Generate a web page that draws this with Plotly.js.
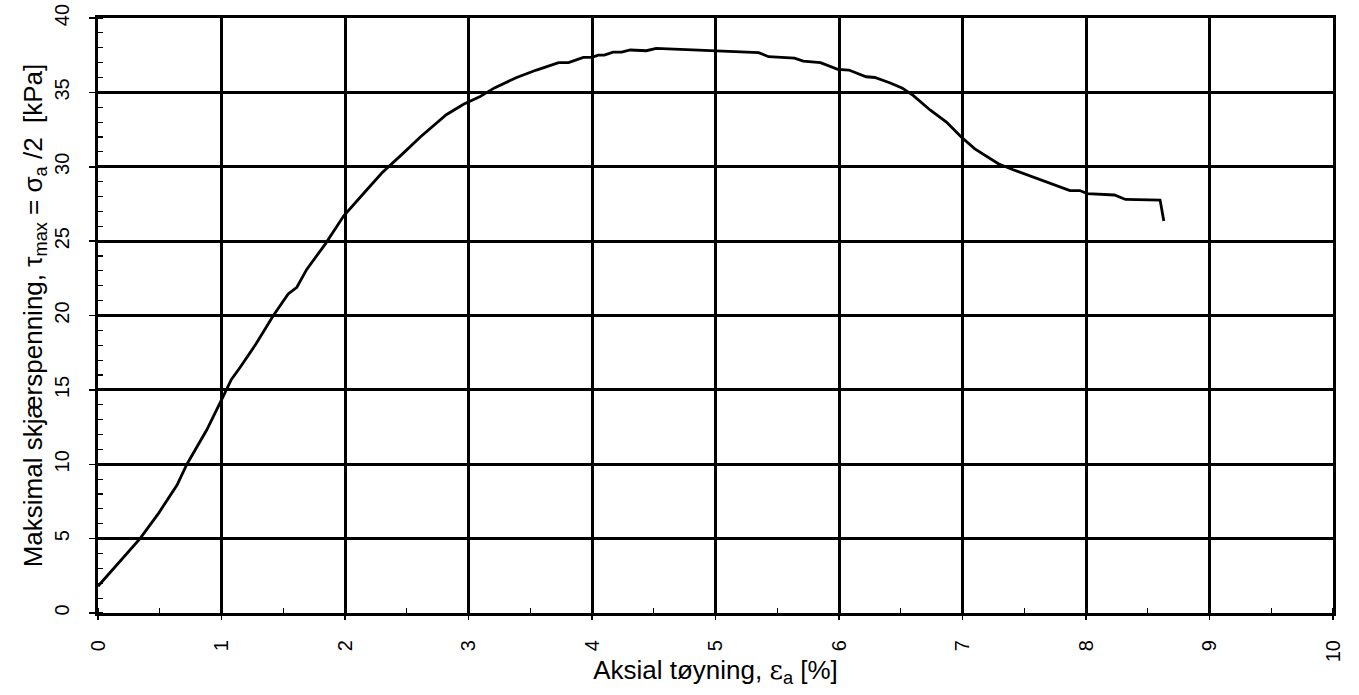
<!DOCTYPE html>
<html>
<head>
<meta charset="utf-8">
<script src="https://cdn.plot.ly/plotly-3.0.1.min.js"></script>
<style>html,body{margin:0;padding:0;background:#fff;}#chart{width:1359px;height:695px;}</style>
</head>
<body>
<div id="chart"></div>
<script>
const strain = [0, 0.17, 0.34, 0.49, 0.64, 0.72, 0.88, 1.01, 1.08, 1.15, 1.28, 1.42, 1.54, 1.61, 1.69, 1.84, 1.99, 2.15, 2.3, 2.47, 2.61, 2.82, 2.96, 3.09, 3.21, 3.39, 3.55, 3.73, 3.81, 3.93, 4.0, 4.05, 4.1, 4.17, 4.24, 4.31, 4.44, 4.52, 5.0, 5.35, 5.43, 5.64, 5.71, 5.85, 5.99, 6.08, 6.22, 6.29, 6.41, 6.51, 6.6, 6.74, 6.87, 6.99, 7.1, 7.29, 7.41, 7.57, 7.74, 7.87, 7.95, 8.01, 8.23, 8.32, 8.6, 8.63];
const shear = [1.8, 3.4, 5.0, 6.7, 8.6, 10.0, 12.3, 14.5, 15.7, 16.5, 18.1, 20.0, 21.45, 21.9, 23.1, 24.8, 26.7, 28.2, 29.6, 30.9, 32.0, 33.5, 34.2, 34.7, 35.3, 36.0, 36.5, 37.0, 37.0, 37.35, 37.35, 37.5, 37.5, 37.7, 37.7, 37.85, 37.8, 37.96, 37.78, 37.67, 37.4, 37.3, 37.1, 37.0, 36.55, 36.5, 36.05, 36.0, 35.65, 35.3, 34.8, 33.8, 33.0, 32.0, 31.2, 30.2, 29.8, 29.3, 28.8, 28.4, 28.4, 28.2, 28.1, 27.8, 27.76, 26.35];
const xTicks = [0,1,2,3,4,5,6,7,8,9,10];
const yTicks = [0,5,10,15,20,25,30,35,40];

const trace = {
  x: strain, y: shear, type: 'scatter', mode: 'lines',
  line: {color: '#000', width: 2.8}, hoverinfo: 'skip'
};
// empty helper trace so the overlay axis (visible major ticks) is drawn
const tickTrace = {x: [], y: [], type: 'scatter', mode: 'lines', xaxis: 'x2', yaxis: 'y', hoverinfo: 'skip'};

const axisCommon = {
  showline: true, linecolor: '#000', linewidth: 3, mirror: true,
  showgrid: true, gridcolor: '#000', gridwidth: 3,
  zeroline: false, ticks: 'outside', ticklen: 6, tickwidth: 1.5, tickcolor: '#000',
  tickfont: {family: 'Liberation Sans, Arial, sans-serif', size: 20, color: '#000'},
  tickangle: -90
};
const layout = {
  width: 1359, height: 695,
  margin: {l: 98, r: 26, t: 18, b: 82},
  paper_bgcolor: '#fff', plot_bgcolor: '#fff',
  showlegend: false,
  font: {family: 'Liberation Sans, Arial, sans-serif', color: '#000'},
  xaxis: Object.assign({}, axisCommon, {
    range: [0, 10], tickvals: xTicks, ticktext: xTicks.map(String),
    ticklen: 16, tickcolor: 'rgba(0,0,0,0)',
    minor: {dtick: 0.5, tick0: 0, ticks: 'inside', ticklen: 5, tickwidth: 1.2, tickcolor: '#000', showgrid: false},
    title: {text: 'Aksial tøyning, <span style="font-family:DejaVu Serif">ε</span><sub>a</sub> [%]', font: {size: 26, color: '#000'}, standoff: 0}
  }),
  xaxis2: {
    overlaying: 'x', anchor: 'y', side: 'bottom', range: [0, 10],
    tickvals: xTicks, showticklabels: false, showgrid: false, zeroline: false, showline: false,
    ticks: 'outside', ticklen: 6, tickwidth: 1.5, tickcolor: '#000'
  },
  yaxis: Object.assign({}, axisCommon, {
    range: [0, 40], tickvals: yTicks, ticktext: yTicks.map(String),
    ticklabelstandoff: 12,
    minor: {dtick: 1, tick0: 0, ticks: 'inside', ticklen: 5, tickwidth: 1.2, tickcolor: '#000', showgrid: false},
    title: {text: 'Maksimal skjærspenning, τ<sub>max</sub> = σ<sub>a</sub> /2  [kPa]', font: {size: 26, color: '#000'}, standoff: 0}
  })
};
Plotly.newPlot('chart', [trace, tickTrace], layout, {displayModeBar: false, staticPlot: true});
</script>
</body>
</html>
